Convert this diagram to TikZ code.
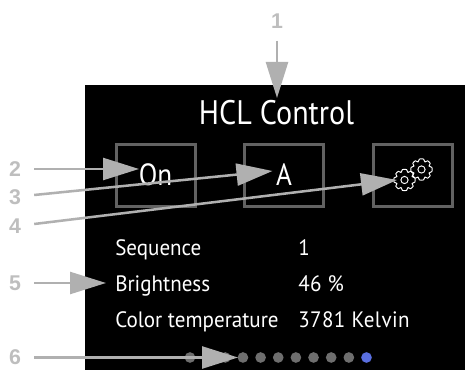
\documentclass[tikz,border=0pt]{standalone}
\usepackage{fontspec}
\setmainfont{PT Sans}
\newfontfamily\headfont{PT Sans}[FakeStretch=0.885]
\newfontfamily\screenfont{PT Sans}[FakeStretch=0.945]
\newfontfamily\valuefont{PT Sans}[FakeStretch=0.945,LetterSpace=2]
\newfontfamily\labelfont{Liberation Sans}[BoldFont={Liberation Sans Bold}]
\usetikzlibrary{arrows.meta}
\definecolor{callout}{HTML}{B0B0B0}
\definecolor{calltext}{HTML}{BEBEBE}
\definecolor{framegray}{HTML}{626262}
\definecolor{dotgray}{HTML}{6E6E6E}
\definecolor{dotblue}{HTML}{5A6FE0}
\begin{document}
\begin{tikzpicture}[x=0.75pt,y=-0.75pt,
            screentext/.style={text=white,inner sep=0pt,anchor=base west,font=\screenfont\fontsize{16.7}{18}\selectfont},
            valuetext/.style={text=white,inner sep=0pt,anchor=base west,font=\valuefont\fontsize{16.7}{18}\selectfont},
            headtext/.style={text=white,inner sep=0pt,font=\headfont\fontsize{25.5}{28}\selectfont},
            keytext/.style={text=white,inner sep=0pt,font=\headfont\fontsize{23}{25}\selectfont},
            keybox/.style={draw=framegray,line width=2.2pt,minimum width=59.5pt,minimum height=46pt,inner sep=0pt},
            calllabel/.style={text=calltext,inner sep=0pt,font=\labelfont\bfseries\fontsize{16}{17}\selectfont},
            callarrow/.style={callout,line width=1.9pt,-{Triangle[length=27pt,width=16.5pt]}},
            dot/.style={circle,fill=#1,minimum size=8pt,inner sep=0pt},
            geartooth/.style={draw=white,line width=0.7pt,line join=round}]
            \useasboundingbox (0,0) rectangle (465,370);
            \fill[black] (85,85) rectangle (465,370);
            % keys
            \node[keybox] (onbox) at (156,175.5) {};
            \node[keybox] (abox) at (284,175.5) {};
            \node[keybox] (gearbox) at (412.8,175.5) {};
            \node[headtext] (title) at (276.5,113) {HCL Control};
            \node[keytext] (ontext) at (155.5,175) {On};
            \node[keytext] (atext) at (284,175) {A};
            % gears
            \foreach \cx/\cy/\name in {404.5/180/geara,421.5/169.5/gearb} {
              \coordinate (\name) at (\cx,\cy);
              \draw[geartooth] plot[smooth cycle,tension=0.15] coordinates {
                (\cx+10.5,\cy-2) (\cx+10.5,\cy+2) (\cx+7.5,\cy+3.5) (\cx+8.8,\cy+6.2)
                (\cx+6.2,\cy+8.8) (\cx+3.5,\cy+7.5) (\cx+2,\cy+10.5) (\cx-2,\cy+10.5)
                (\cx-3.5,\cy+7.5) (\cx-6.2,\cy+8.8) (\cx-8.8,\cy+6.2) (\cx-7.5,\cy+3.5)
                (\cx-10.5,\cy+2) (\cx-10.5,\cy-2) (\cx-7.5,\cy-3.5) (\cx-8.8,\cy-6.2)
                (\cx-6.2,\cy-8.8) (\cx-3.5,\cy-7.5) (\cx-2,\cy-10.5) (\cx+2,\cy-10.5)
                (\cx+3.5,\cy-7.5) (\cx+6.2,\cy-8.8) (\cx+8.8,\cy-6.2) (\cx+7.5,\cy-3.5)
              };
              \draw[geartooth] (\cx,\cy) circle[radius=3.6];
            }
            % status lines
            \node[screentext] (seqname) at (115,255.5) {Sequence};
            \node[screentext] (briname) at (115,291.5) {Brightness};
            \node[screentext] (colname) at (115,327.5) {Color temperature};
            \node[valuetext] (seqval) at (298,255.5) {1};
            \node[valuetext] (brival) at (298,291.5) {46 \%};
            \node[valuetext] (colval) at (298,327.5) {3781 Kelvin};
            % page dots
            \foreach \i in {0,...,9}
              \node[dot=dotgray] (dot\i) at (190+17.65*\i,357.5) {};
            \node[dot=dotblue] (dot10) at (366.5,357.5) {};
            % callouts
            \node[calllabel] (labela) at (277,21) {1};
            \node[calllabel] (labelb) at (15,169) {2};
            \node[calllabel] (labelc) at (15,197) {3};
            \node[calllabel] (labeld) at (15,226) {4};
            \node[calllabel] (labele) at (15,283) {5};
            \node[calllabel] (labelf) at (15,357) {6};
            \coordinate (tipa) at (277,98);
            \coordinate (tipb) at (139,169);
            \coordinate (tipc) at (272.5,171);
            \coordinate (tipd) at (397,180);
            \coordinate (tipe) at (106,283);
            \coordinate (tipf) at (238,357.5);
            \draw[callarrow] (labela.south) ++(0,12) -- (tipa);
            \draw[callarrow] (labelb.east) ++(13,0) -- (tipb);
            \draw[callarrow] (labelc.east) ++(13,-2) -- (tipc);
            \draw[callarrow] (labeld.east) ++(13,-2) -- (tipd);
            \draw[callarrow] (labele.east) ++(13,0) -- (tipe);
            \draw[callarrow] (labelf.east) ++(13,0.5) -- (tipf);
          \end{tikzpicture}
\end{document}
